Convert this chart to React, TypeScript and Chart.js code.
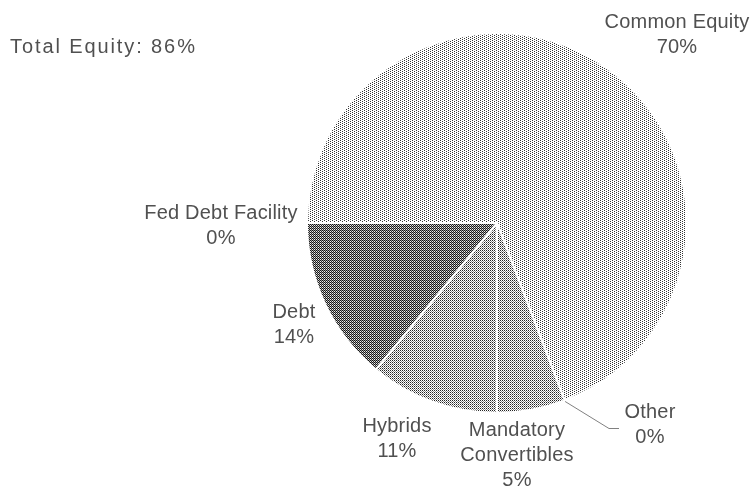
import React, { useEffect, useRef } from "react";
import { Chart, registerables } from "chart.js";

Chart.register(...registerables);

// ---- data ----
const categories = ["Fed Debt Facility", "Common Equity", "Other", "Mandatory Convertibles", "Hybrids", "Debt"];
const shares = [0, 69.2, 0, 5.8, 11, 14];
const shareLabels = ["0%", "70%", "0%", "5%", "11%", "14%"];
const labelLines = [["Fed Debt Facility"], ["Common Equity"], ["Other"], ["Mandatory", "Convertibles"], ["Hybrids"], ["Debt"]];
const totalEquityLabel = "Total Equity: 86%";

// ---- layout / style ----
const W = 754;
const H = 486;
const TEXT = "#505050";
const FONT = '20px "Liberation Sans", Arial, sans-serif';
const LINE_H = 25;
// first-line centre of each label
const labelAnchors: [number, number][] = [
  [221, 213],
  [677, 22],
  [650, 412],
  [517, 430],
  [397, 426],
  [294, 312],
];

function makePattern(w: number, h: number, pixels: [number, number, string][]): CanvasPattern | string {
  const c = document.createElement("canvas");
  c.width = w;
  c.height = h;
  const g = c.getContext("2d");
  if (!g) return "#ccc";
  g.fillStyle = "#ffffff";
  g.fillRect(0, 0, w, h);
  for (const [x, y, col] of pixels) {
    g.fillStyle = col;
    g.fillRect(x, y, 1, 1);
  }
  const p = g.createPattern(c, "repeat");
  return p || "#ccc";
}

const labelPlugin = {
  id: "sliceLabels",
  afterDraw(chart: any) {
    const ctx: any = chart.ctx;
    const meta = chart.getDatasetMeta(0);
    ctx.save();
    ctx.font = FONT;
    ctx.fillStyle = TEXT;
    ctx.textBaseline = "middle";

    ctx.textAlign = "left";
    ctx.letterSpacing = "1.9px";
    ctx.fillText(totalEquityLabel, 10, 47);

    ctx.textAlign = "center";
    ctx.letterSpacing = "0.2px";
    categories.forEach((_, i) => {
      const [ax, ay] = labelAnchors[i];
      const lines = [...labelLines[i], shareLabels[i]];
      lines.forEach((t, k) => ctx.fillText(t, ax, ay + k * LINE_H));
    });

    // leader line for "Other"
    const arc = meta.data[2];
    if (arc) {
      const p = arc.getProps(["x", "y", "outerRadius", "startAngle"], true);
      const sx = p.x + Math.cos(p.startAngle) * (p.outerRadius + 1);
      const sy = p.y + Math.sin(p.startAngle) * (p.outerRadius + 1);
      ctx.strokeStyle = "#808080";
      ctx.lineWidth = 1;
      ctx.beginPath();
      ctx.moveTo(sx, sy);
      ctx.lineTo(609, 428.5);
      ctx.lineTo(619, 428.5);
      ctx.stroke();
    }
    ctx.restore();
  },
};

export default function App() {
  const ref = useRef<HTMLCanvasElement | null>(null);

  useEffect(() => {
    document.body.style.margin = "0";
    const canvas = ref.current;
    if (!canvas) return;

    const light = makePattern(4, 2, [
      [0, 0, "#333"],
      [2, 1, "#333"],
    ]);
    const medium = makePattern(2, 2, [
      [0, 0, "#222"],
      [1, 1, "#888"],
    ]);
    const dark = makePattern(2, 2, [
      [0, 0, "#111"],
      [1, 1, "#222"],
      [1, 0, "#999"],
      [0, 1, "#eee"],
    ]);

    const chart = new Chart(canvas, {
      type: "pie",
      data: {
        labels: categories,
        datasets: [
          {
            data: shares,
            backgroundColor: [light, light, light, medium, medium, dark] as any,
            borderColor: "#ffffff",
            borderWidth: 2,
          },
        ],
      },
      options: {
        responsive: false,
        animation: false,
        rotation: -90,
        layout: { padding: { left: 306, right: 66, top: 32, bottom: 72 } },
        plugins: {
          legend: { display: false },
          tooltip: { enabled: false },
        },
      },
      plugins: [labelPlugin],
    });

    return () => chart.destroy();
  }, []);

  return (
    <div style={{ width: W, height: H, background: "#fff" }}>
      <canvas ref={ref} width={W} height={H} />
    </div>
  );
}
